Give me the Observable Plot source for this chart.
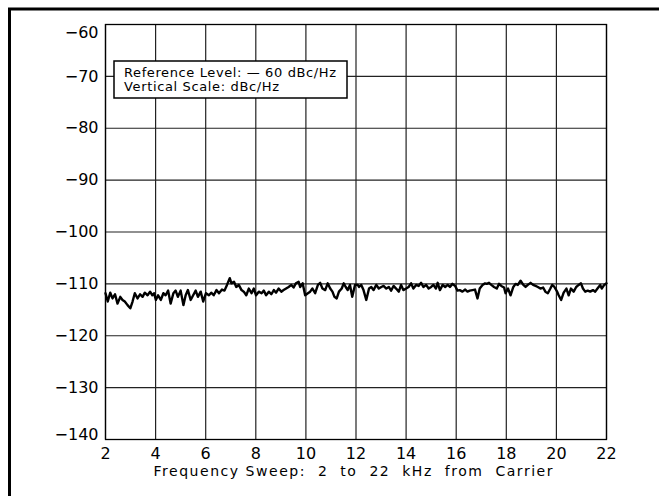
<!DOCTYPE html>
<html><head><meta charset="utf-8">
<script src="https://cdn.jsdelivr.net/npm/d3@7"></script>
<script src="https://cdn.jsdelivr.net/npm/@observablehq/plot@0.6"></script>
<style>
html,body{margin:0;padding:0;background:#fff;}
#chart svg{display:block;}
</style></head><body><div id="chart"></div>
<script>
const freqKHz = [
2.00,2.09,2.19,2.28,2.38,2.48,2.59,2.68,2.77,2.88,2.99,3.08,3.17,3.28,3.38,3.48,3.57,3.68,3.78,3.87,
3.94,4.01,4.10,4.21,4.31,4.40,4.50,4.60,4.71,4.80,4.89,5.00,5.11,5.20,5.29,5.40,5.50,5.60,5.69,5.80,
5.90,6.01,6.13,6.22,6.32,6.43,6.53,6.65,6.75,6.85,6.96,
7.03,7.13,7.22,7.32,7.43,7.52,7.62,7.72,7.83,7.92,8.01,8.12,8.23,8.32,8.41,8.52,8.62,8.72,8.81,8.91,
9.02,9.11,9.21,9.31,9.42,9.51,9.60,9.71,9.77,9.87,9.97,10.08,10.17,10.26,10.37,10.48,10.57,10.66,10.77,10.87,
10.97,11.06,11.14,11.23,11.32,11.43,11.51,11.59,11.67,11.76,11.85,11.96,12.07,
12.12,12.21,12.30,12.41,12.52,12.61,12.70,12.81,12.91,13.01,13.10,13.21,13.31,13.40,13.50,13.60,13.71,13.80,13.89,14.00,
14.10,14.20,14.29,14.40,14.50,14.60,14.69,14.80,14.90,15.00,15.09,15.19,15.26,15.35,15.46,15.56,15.66,15.75,15.85,15.96,
16.05,16.14,16.25,16.36,16.45,16.54,16.65,16.75,16.85,16.94,17.05,17.15,
17.22,17.31,17.40,17.51,17.62,17.71,17.80,17.91,17.97,18.07,18.17,18.28,18.37,18.46,18.57,18.68,18.77,18.86,18.97,19.07,
19.17,19.26,19.36,19.47,19.56,19.66,19.76,19.83,19.92,20.03,20.09,20.19,20.29,20.40,20.49,20.58,20.69,20.79,20.89,20.98,
21.06,21.15,21.25,21.35,21.46,21.55,21.64,21.75,21.81,21.91,22.00
];
const levelDbcHz = [
-111.8,-113.4,-111.7,-112.8,-112.0,-113.8,-112.5,-113.1,-113.4,-114.1,-114.7,-113.4,-111.8,-112.8,-112.0,-112.5,-111.7,-112.2,-111.5,-112.2,
-111.8,-113.1,-112.2,-113.1,-111.8,-112.2,-111.3,-113.8,-111.8,-111.3,-112.5,-111.3,-114.1,-112.2,-111.2,-113.1,-112.2,-111.3,-112.5,-111.5,
-113.4,-111.8,-112.2,-111.7,-112.2,-111.2,-111.8,-111.1,-111.3,-110.2,-108.9,
-109.9,-109.6,-110.6,-110.2,-111.2,-111.5,-112.2,-110.9,-111.8,-110.9,-112.2,-111.5,-111.8,-111.3,-112.2,-111.5,-112.0,-111.2,-111.7,-110.9,
-111.5,-111.2,-110.9,-110.6,-110.2,-110.7,-109.9,-109.6,-110.6,-109.9,-112.2,-111.8,-111.5,-110.9,-111.8,-110.2,-109.8,-110.9,-111.2,-109.9,
-110.9,-111.5,-112.5,-112.8,-111.5,-110.9,-109.9,-110.6,-111.2,-110.2,-112.5,-110.2,-110.2,
-110.6,-110.2,-111.2,-113.1,-110.9,-110.6,-111.2,-110.2,-110.9,-110.6,-110.4,-110.9,-110.6,-111.3,-110.4,-110.9,-111.5,-110.2,-111.2,-110.9,
-110.6,-109.9,-110.9,-110.2,-110.4,-109.8,-110.6,-110.2,-110.9,-110.6,-110.2,-110.9,-109.8,-111.2,-110.2,-110.6,-110.2,-110.6,-110.0,-110.4,
-111.3,-111.2,-111.5,-111.1,-111.5,-111.3,-111.2,-111.1,-112.8,-110.9,-110.2,-109.9,
-110.0,-109.8,-110.2,-110.6,-110.9,-110.0,-110.4,-110.7,-111.8,-110.9,-112.2,-110.6,-110.0,-110.2,-109.4,-110.2,-110.6,-110.2,-109.8,-110.2,
-110.4,-110.6,-110.9,-110.7,-111.5,-111.8,-110.9,-110.2,-110.6,-111.5,-112.2,-113.1,-111.7,-110.9,-112.2,-110.9,-111.5,-110.6,-110.2,-109.9,
-110.9,-111.5,-111.3,-111.5,-111.2,-111.5,-110.9,-110.2,-110.9,-110.2,-109.9
];
const xTicks = [2,4,6,8,10,12,14,16,18,20,22];
const yTicks = [-140,-130,-120,-110,-100,-90,-80,-70,-60];
const annotationLines = ["Reference Level: \u2014 60 dBc/Hz", "Vertical Scale: dBc/Hz"];
const xTitle = "Frequency Sweep:  2  to  22  kHz  from  Carrier";

const data = freqKHz.map((f, i) => ({f, v: levelDbcHz[i]}));
const font = "DejaVu Sans";
const midTicks = yTicks.filter(t => t !== -60 && t !== -140);

const plot = Plot.plot({
  width: 659, height: 496,
  marginLeft: 105, marginRight: 53, marginTop: 24, marginBottom: 57,
  style: {fontFamily: font, fontSize: "16px", background: "#fff", color: "#000", overflow: "visible"},
  x: {domain: [2, 22], ticks: xTicks},
  y: {domain: [-140, -60], ticks: yTicks},
  marks: [
    Plot.gridX(xTicks, {stroke: "#222", strokeOpacity: 1, strokeWidth: 1.2}),
    Plot.gridY(yTicks, {stroke: "#222", strokeOpacity: 1, strokeWidth: 1.2}),
    Plot.frame({stroke: "#000", strokeWidth: 1.3}),
    Plot.line(data, {x: "f", y: "v", stroke: "#000", strokeWidth: 2.4, strokeLinejoin: "round"}),
    Plot.axisX(xTicks, {tickSize: 0, tickPadding: 8, label: null, fontSize: 16}),
    Plot.axisY(midTicks, {tickSize: 0, tickPadding: 7, label: null, fontSize: 16}),
    Plot.axisY([-60], {tickSize: 0, tickPadding: 7, label: null, fontSize: 16, dy: 8}),
    Plot.axisY([-140], {tickSize: 0, tickPadding: 7, label: null, fontSize: 16, dy: -4.5}),
    Plot.text([annotationLines[0]], {text: d => d, frameAnchor: "top-left", dx: 18.5, dy: 43, textAnchor: "start", fontSize: 13}),
    Plot.text([annotationLines[1]], {text: d => d, frameAnchor: "top-left", dx: 18.5, dy: 57, textAnchor: "start", fontSize: 13}),
    Plot.text([xTitle], {text: d => d, frameAnchor: "bottom-left", dx: 48, dy: 36, textAnchor: "start", fontSize: 14})
  ]
});
document.getElementById("chart").appendChild(plot);

// text widths to match the plotter lettering
const widths = new Map([[annotationLines[0], 212], [annotationLines[1], 155], [xTitle, 399]]);
let annoGroup = null;
d3.select(plot).selectAll("text").each(function() {
  const w = widths.get(this.textContent);
  if (w) {
    this.setAttribute("textLength", w);
    this.setAttribute("lengthAdjust", "spacing");
    this.style.whiteSpace = "pre";
    if (this.textContent === annotationLines[0] && !annoGroup) annoGroup = this.parentNode;
  }
});
// legend box behind the annotation
const ns = "http://www.w3.org/2000/svg";
const box = document.createElementNS(ns, "rect");
box.setAttribute("x", 114); box.setAttribute("y", 61);
box.setAttribute("width", 233); box.setAttribute("height", 37);
box.setAttribute("fill", "#fff"); box.setAttribute("stroke", "#000"); box.setAttribute("stroke-width", 1.5);
if (annoGroup) plot.insertBefore(box, annoGroup); else plot.appendChild(box);
// outer page border
const border = document.createElementNS(ns, "rect");
border.setAttribute("x", 9.5); border.setAttribute("y", 9);
border.setAttribute("width", 800); border.setAttribute("height", 800);
border.setAttribute("fill", "none"); border.setAttribute("stroke", "#000"); border.setAttribute("stroke-width", 3);
plot.appendChild(border);
</script></body></html>
